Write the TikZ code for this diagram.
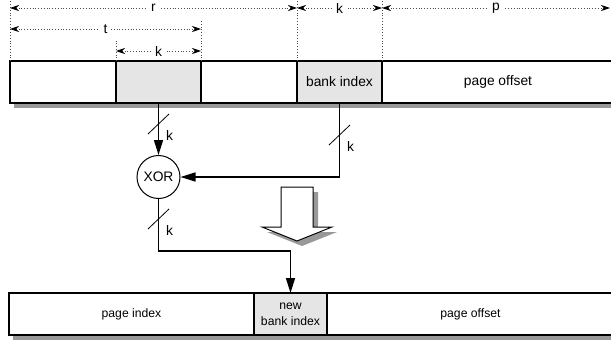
\documentclass[tikz,border=0pt]{standalone}
\usepackage{fontspec}
\setmainfont{Liberation Sans}
\usepackage{tikz}
\usetikzlibrary{positioning,arrows.meta,shadows}
\tikzstyle{field} = [rectangle, minimum height=42pt, inner sep=0pt, outer sep=0pt, text centered, draw=black, line width=1.2pt, fill=white, font=\fontsize{13.8}{16}\selectfont, drop shadow={shadow xshift=4pt, shadow yshift=-5pt, fill=black!40, opacity=1}]
\tikzstyle{banked} = [field, fill=black!10]
\tikzstyle{lower} = [font=\fontsize{12.2}{16}\selectfont, align=center]
\tikzstyle{bus} = [line width=1.5pt, -{Triangle[length=15pt,width=9pt]}]
\tikzstyle{span} = [dotted, line width=0.8pt, black!70, {Stealth[length=9pt,width=6pt,black]}-{Stealth[length=9pt,width=6pt,black]}]
\tikzstyle{spanlabel} = [fill=white, inner sep=4pt, text=black, font=\fontsize{13.8}{16}\selectfont]
\tikzstyle{guide} = [dotted, line width=0.8pt, black!70]
\tikzset{buswidth/.pic={
	\draw [line width=0.8pt] (-10.5,10) -- (10.5,-10);
	\node [font=\fontsize{13.8}{16}\selectfont] at (11,11) {k};
}}

\begin{document}
\begin{tikzpicture}[x=1pt, y=-1pt]
			\useasboundingbox (0,0) rectangle (611,343);
			
			% address before the swap
			\node (hi) [field, minimum width=106pt, anchor=north west] at (10,61) {};
			\node (tag) [banked, minimum width=85pt, right=0pt of hi] {};
			\node (mid) [field, minimum width=96pt, right=0pt of tag] {};
			\node (bank) [banked, minimum width=85pt, right=0pt of mid] {bank index};
			\node (offset) [field, minimum width=232pt, right=0pt of bank] {page offset};
			
			% address after the swap
			\node (pageidx) [field, lower, minimum width=245pt, anchor=north west] at (9,293) {page index};
			\node (newbank) [banked, lower, minimum width=73pt, right=0pt of pageidx] {new\\bank index};
			\node (newoffset) [field, lower, minimum width=287pt, right=0pt of newbank] {page offset};
			
			\node (xor) [circle, draw=black, line width=1pt, minimum size=43pt, inner sep=0pt, font=\fontsize{13.8}{16}\selectfont] at (158.5,177) {XOR};
			\coordinate (turn) at (158.5,251);
			
			% bit widths
			\coordinate (ra) at (10,8);
			\coordinate (rb) at (297,8);
			\coordinate (kb) at (382,8);
			\coordinate (pb) at (610,8);
			\coordinate (ta) at (10,29);
			\coordinate (tb) at (201,29);
			\coordinate (ka) at (116,51);
			\coordinate (kc) at (201,51);
			
			\draw [guide] (hi.north west) -- (hi.north west |- 0,0);
			\draw [guide] (tag.north west) -- (tag.north west |- 0,41);
			\draw [guide] (tag.north east) -- (tag.north east |- 0,20);
			\draw [guide] (mid.north east) -- (mid.north east |- 0,0);
			\draw [guide] (bank.north east) -- (bank.north east |- 0,0);
			
			\draw [span] (ra) -- node [spanlabel] {r} (rb);
			\draw [span] (rb) -- node [spanlabel] {k} (kb);
			\draw [span] (kb) -- node [spanlabel] {p} (pb);
			\draw [span] (ta) -- node [spanlabel] {t} (tb);
			\draw [span] (ka) -- node [spanlabel] {k} (kc);
			
			% k-bit buses
			\draw [bus] (tag.south) -- (xor.north);
			\draw [bus] (bank.south) |- (xor.east);
			\draw [bus] (xor.south) -- (turn) -| (newbank.north);
			\pic at (158.5,124) {buswidth};
			\pic at (339.5,135) {buswidth};
			\pic at (158.5,219) {buswidth};
			
			% big hollow arrow
			\filldraw [fill=white, line width=1pt, drop shadow={shadow xshift=5pt, shadow yshift=-5pt, fill=black!40, opacity=1}] (281,187) -- (313,187) -- (313,227) -- (332,227) -- (297,241) -- (262,227) -- (281,227) -- cycle;
			\end{tikzpicture}
\end{document}
